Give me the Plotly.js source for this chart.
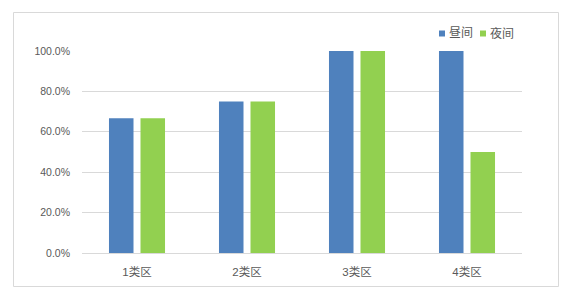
<!DOCTYPE html>
<html>
<head>
<meta charset="utf-8">
<script src="https://cdn.plot.ly/plotly-3.0.1.min.js"></script>
<style>
  html, body { margin: 0; padding: 0; background: #fff; }
  #chart { width: 570px; height: 294px; }
</style>
</head>
<body>
<div id="chart"></div>
<script>
// Share of compliant measurements per zone class, day vs night
const categories = ['1类区', '2类区', '3类区', '4类区'];
const dayValues = [0.667, 0.75, 1.0, 1.0];
const nightValues = [0.667, 0.75, 1.0, 0.5];
const seriesNames = ['昼间', '夜间'];
const yTickValues = [0, 0.2, 0.4, 0.6, 0.8, 1.0];

const BLUE = '#4F81BD';
const GREEN = '#92D050';
const TEXT = '#595959';
const GRID = '#D9D9D9';
const FONT = 'Liberation Sans, "Noto Sans CJK SC", sans-serif';
const seriesColors = [BLUE, GREEN];

// plot area in pixels, used to place the frame and the key in paper units
const PL = 82, PR = 522, PT = 51, PB = 253;
const px = x => (x - PL) / (PR - PL);
const py = y => (PB - y) / (PB - PT);

const traces = [
  { type: 'bar', x: categories, y: dayValues, name: seriesNames[0],
    marker: { color: BLUE }, hoverinfo: 'skip', showlegend: false },
  { type: 'bar', x: categories, y: nightValues, name: seriesNames[1],
    marker: { color: GREEN }, hoverinfo: 'skip', showlegend: false }
];

// compact key: small square followed by the series name
const keyX = [439, 480];
const keyShapes = seriesNames.map((n, i) => ({
  type: 'rect', xref: 'paper', yref: 'paper',
  x0: px(keyX[i]), x1: px(keyX[i] + 6), y0: py(36.5), y1: py(30.5),
  line: { width: 0 }, fillcolor: seriesColors[i]
}));
const keyLabels = seriesNames.map((n, i) => ({
  xref: 'paper', yref: 'paper', x: px(keyX[i] + 7.5), y: py(33.5),
  xanchor: 'left', yanchor: 'middle', showarrow: false,
  text: n, font: { size: 12, color: TEXT }
}));

const layout = {
  width: 570, height: 294,
  margin: { l: PL, r: 570 - PR, t: PT, b: 294 - PB, pad: 0 },
  paper_bgcolor: '#fff', plot_bgcolor: '#fff',
  font: { family: FONT, color: TEXT, size: 10.5 },
  barmode: 'group',
  bargap: 0.427,
  bargroupgap: 0.222,
  showlegend: false,
  xaxis: {
    type: 'category', showgrid: false, zeroline: false, showline: true,
    linecolor: GRID, linewidth: 1, ticks: '',
    tickfont: { size: 11.5, color: TEXT }, ticklabelstandoff: 8
  },
  yaxis: {
    range: [0, 1.0], tickvals: yTickValues, tickformat: '.1%',
    showgrid: true, gridcolor: GRID, gridwidth: 1, zeroline: false,
    showline: false, ticks: '', tickfont: { size: 10.5, color: TEXT },
    ticklabelstandoff: 11
  },
  annotations: keyLabels,
  shapes: [{
    type: 'rect', xref: 'paper', yref: 'paper',
    x0: px(13.5), x1: px(558.5), y0: py(286.5), y1: py(12.5),
    line: { color: GRID, width: 1 }, fillcolor: 'rgba(0,0,0,0)', layer: 'below'
  }].concat(keyShapes)
};

Plotly.newPlot('chart', traces, layout, { staticPlot: true, displayModeBar: false });
</script>
</body>
</html>
